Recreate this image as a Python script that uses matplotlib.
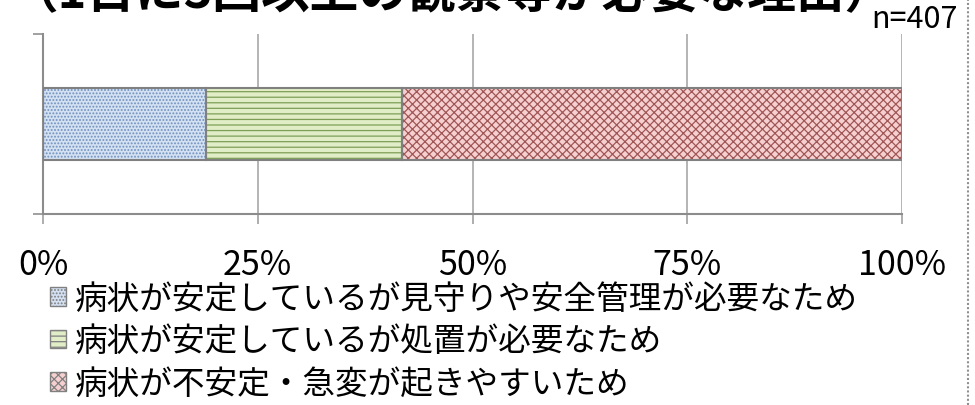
import matplotlib
matplotlib.use("Agg")
import matplotlib.pyplot as plt
from matplotlib.patches import Patch
from matplotlib.lines import Line2D
import numpy as np

plt.rcParams['font.family'] = ['Noto Sans CJK JP', 'DejaVu Sans']
plt.rcParams['hatch.linewidth'] = 0.9

title = "（1日に3回以上の観察等が必要な理由）"
n_label = "n=407"
categories = ["病状が安定しているが見守りや安全管理が必要なため",
              "病状が安定しているが処置が必要なため",
              "病状が不安定・急変が起きやすいため"]
counts = [77, 93, 237]
xticks = [0, 25, 50, 75, 100]
xticklabels = ["0%", "25%", "50%", "75%", "100%"]

face_colors = ["#D3E1F2", "#E0EDC6", "#F6D0D0"]
hatch_colors = ["#6F90BE", "#7E9E58", "#A05656"]
hatches = [".....", "---", "xxxx"]

W, H = 975, 406
fig = plt.figure(figsize=(W / 100, H / 100), dpi=100)
ax = fig.add_axes([43 / W, 1 - 215 / H, (902 - 43) / W, 180 / H])

total = sum(counts)
shares = [c / total * 100 for c in counts]
left = 0
for s, fc, hc, ht in zip(shares, face_colors, hatch_colors, hatches):
    ax.barh([0], [s], left=left, height=0.4, color=fc, hatch=ht,
            edgecolor=hc, linewidth=0, zorder=2)
    ax.barh([0], [s], left=left, height=0.4, fill=False,
            edgecolor="#808080", linewidth=1.5, zorder=3)
    left += s

ax.set_xlim(0, 100)
ax.set_ylim(-0.5, 0.5)
ax.set_xticks(xticks)
ax.set_xticklabels(xticklabels, fontsize=24.5)
ax.set_yticks([-0.5, 0.5])
ax.set_yticklabels([])
ax.tick_params(axis='x', length=7, width=1.2, color="#A0A0A0", pad=17)
ax.tick_params(axis='y', length=7, width=1.2, color="#909090")
ax.grid(axis='x', color="#A8A8A8", linewidth=1.2, zorder=0)
for sp in ['top', 'right']:
    ax.spines[sp].set_visible(False)
for sp in ['left', 'bottom']:
    ax.spines[sp].set_color("#8C8C8C")
    ax.spines[sp].set_linewidth(1.5)

handles = [Patch(facecolor=fc, hatch=ht, edgecolor="#808080", linewidth=1)
           for fc, ht in zip(face_colors, hatches)]
fig.legend(handles, categories, loc='upper left',
           bbox_to_anchor=(50 / W, 1 - 284 / H), frameon=False,
           fontsize=23.5, handlelength=0.5, handleheight=0.5,
           handletextpad=0.25, labelspacing=0.32, borderpad=0, borderaxespad=0)

fig.text(894 / W, 1 - 8 / H, title, ha='right', va='baseline',
         fontsize=35, fontweight='bold')
fig.text(958 / W, 1 - 20 / H, n_label, ha='right', va='center', fontsize=22)

fig.add_artist(Line2D([968 / W, 968 / W], [0, 1], transform=fig.transFigure,
                      color="#909090", linestyle=(0, (1, 1)), linewidth=1.5))

fig.savefig("out.png", dpi=100)
